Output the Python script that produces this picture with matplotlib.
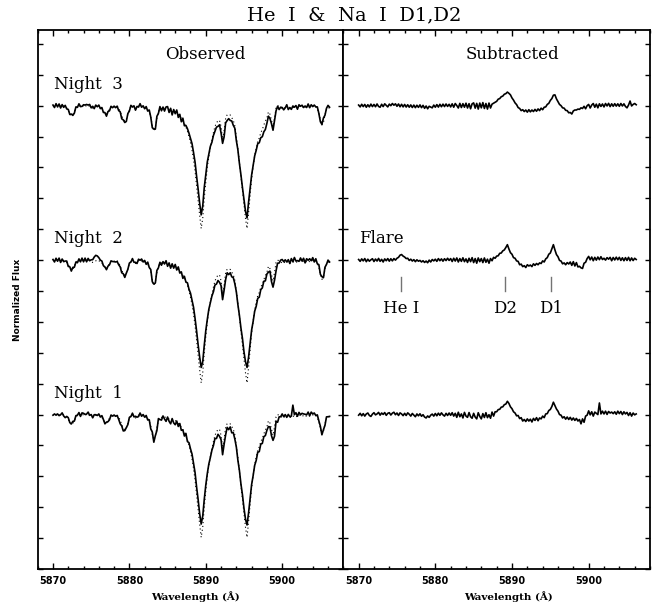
import numpy as np
import matplotlib
matplotlib.use("Agg")
import matplotlib.pyplot as plt
from matplotlib.ticker import MultipleLocator, NullFormatter

# ---------------- data ----------------
# wavelength sampling grid (Angstrom), 0.2 A steps from 5870.0 to 5906.2
wl = np.round(5870.0 + 0.2 * np.arange(182), 1)

# quiescent template spectrum (dotted), normalized flux
template = [
    1.000, 0.996, 1.004, 0.998, 1.003, 0.995, 1.001, 0.997, 0.992, 0.985,
    0.968, 0.950, 0.935, 0.942, 0.962, 0.983, 0.995, 1.000, 0.993, 1.003,
    0.996, 1.004, 0.994, 1.001, 0.996, 0.990, 0.985, 0.988, 0.995, 1.001,
    0.996, 0.990, 0.982, 0.966, 0.950, 0.944, 0.958, 0.980, 0.993, 0.998,
    0.992, 1.000, 0.995, 0.985, 0.962, 0.935, 0.912, 0.900, 0.912, 0.945,
    0.975, 0.995, 1.000, 0.990, 0.978, 0.985, 0.997, 1.002, 0.995, 0.990,
    0.988, 0.982, 0.975, 0.958, 0.925, 0.872, 0.835, 0.860, 0.918, 0.960,
    0.978, 0.982, 0.978, 0.985, 0.980, 0.976, 0.972, 0.968, 0.962, 0.958,
    0.962, 0.952, 0.942, 0.930, 0.918, 0.902, 0.885, 0.862, 0.835, 0.800,
    0.760, 0.712, 0.650, 0.575, 0.480, 0.385, 0.290, 0.205, 0.270, 0.400,
    0.505, 0.600, 0.670, 0.730, 0.775, 0.825, 0.865, 0.887, 0.904, 0.904,
    0.865, 0.782, 0.838, 0.917, 0.942, 0.940, 0.940, 0.922, 0.905, 0.870,
    0.800, 0.725, 0.635, 0.545, 0.455, 0.360, 0.270, 0.205, 0.305, 0.420,
    0.525, 0.605, 0.675, 0.725, 0.770, 0.790, 0.825, 0.845, 0.875, 0.900,
    0.920, 0.960, 0.945, 0.905, 0.865, 0.920, 0.985, 1.000, 0.995, 0.990,
    0.980, 0.988, 0.982, 0.992, 0.985, 0.978, 0.990, 0.986, 0.995, 0.990,
    0.985, 0.992, 0.998, 0.988, 0.994, 0.986, 0.992, 0.998, 0.990, 0.994,
    0.998, 0.990, 0.994, 0.980, 0.955, 0.910, 0.875, 0.890, 0.940, 0.975,
    0.988, 0.984,
]

# template-subtracted spectra (continuum = 1)
sub_night1 = [
    0.996, 1.008, 0.992, 1.006, 0.990, 1.004, 1.010, 0.994, 0.988, 1.003,
    1.012, 0.998, 1.004, 1.014, 0.996, 1.010, 1.001, 1.013, 0.995, 1.008,
    1.012, 0.997, 1.009, 1.015, 0.999, 1.010, 0.994, 1.011, 1.004, 0.993,
    1.008, 0.994, 1.011, 1.002, 0.990, 1.007, 0.996, 0.986, 1.004, 0.992,
    1.005, 0.989, 0.999, 0.984, 0.978, 0.991, 0.982, 0.996, 1.003, 0.990,
    1.007, 0.992, 1.009, 0.995, 1.011, 0.998, 0.990, 1.008, 0.994, 1.010,
    0.995, 1.012, 0.990, 1.008, 0.982, 1.015, 0.986, 1.004, 0.978, 1.014,
    0.990, 0.982, 1.013, 0.986, 0.976, 1.008, 0.984, 0.972, 1.012, 0.988,
    0.972, 1.006, 0.981, 1.012, 0.980, 0.999, 0.976, 1.016, 0.990, 1.018,
    1.018, 1.032, 1.034, 1.048, 1.050, 1.064, 1.068, 1.086, 1.072, 1.050,
    1.038, 1.018, 1.010, 0.992, 0.994, 0.974, 0.980, 0.958, 0.968, 0.955,
    0.972, 0.958, 0.970, 0.952, 0.975, 0.962, 0.980, 0.960, 0.978, 0.972,
    0.990, 0.980, 1.004, 1.006, 1.026, 1.033, 1.052, 1.080, 1.058, 1.036,
    1.022, 1.000, 0.996, 0.978, 0.986, 0.970, 0.984, 0.968, 0.982, 0.964,
    0.978, 0.962, 0.975, 0.958, 0.968, 0.940, 0.972, 0.950, 0.990, 0.996,
    1.024, 0.998, 1.018, 0.990, 1.016, 1.008, 1.000, 1.075, 1.004, 1.022,
    1.004, 1.022, 1.001, 1.020, 1.010, 1.016, 1.006, 1.018, 1.002, 1.022,
    1.006, 1.020, 1.000, 1.018, 1.004, 1.014, 0.994, 1.012, 0.990, 1.010,
    0.998, 1.004,
]

sub_night2 = [
    1.004, 0.992, 1.008, 0.995, 1.010, 0.990, 1.006, 0.993, 1.002, 1.009,
    0.991, 1.007, 0.994, 1.011, 0.992, 1.005, 0.988, 1.008, 0.996, 1.010,
    0.993, 1.009, 0.995, 1.010, 1.000, 1.012, 1.018, 1.032, 1.036, 1.026,
    1.020, 1.010, 1.012, 0.998, 1.006, 0.994, 1.003, 0.990, 1.002, 0.993,
    0.998, 0.988, 0.996, 0.985, 0.994, 0.983, 1.000, 0.988, 1.004, 0.995,
    1.006, 0.992, 1.010, 0.996, 1.008, 0.993, 1.009, 0.997, 1.012, 0.998,
    1.010, 0.991, 1.012, 0.994, 1.014, 0.988, 1.010, 0.992, 1.015, 0.990,
    1.008, 0.985, 1.012, 0.990, 1.016, 0.984, 1.010, 0.980, 1.014, 0.990,
    1.010, 0.984, 1.014, 0.986, 1.006, 0.980, 1.010, 0.996, 1.018, 1.012,
    1.026, 1.028, 1.044, 1.046, 1.060, 1.066, 1.082, 1.100, 1.072, 1.048,
    1.038, 1.016, 1.012, 0.995, 0.992, 0.970, 0.974, 0.958, 0.964, 0.952,
    0.970, 0.962, 0.968, 0.958, 0.976, 0.966, 0.978, 0.970, 0.982, 0.978,
    0.995, 0.988, 1.008, 1.016, 1.038, 1.046, 1.072, 1.100, 1.066, 1.036,
    1.022, 0.998, 0.994, 0.976, 0.982, 0.970, 0.984, 0.975, 0.988, 0.966,
    0.990, 0.962, 0.984, 0.956, 0.960, 0.950, 0.946, 0.980, 0.986, 1.010,
    1.024, 1.002, 1.020, 0.996, 1.018, 1.000, 1.020, 1.003, 1.022, 1.004,
    1.012, 1.000, 1.016, 1.006, 1.018, 0.996, 1.017, 1.001, 1.019, 1.002,
    1.018, 0.998, 1.015, 0.996, 1.016, 0.998, 1.018, 0.996, 1.014, 0.997,
    1.012, 1.004,
]

sub_night3 = [
    1.004, 0.992, 1.009, 0.994, 1.008, 0.990, 1.006, 0.992, 1.010, 0.994,
    1.008, 0.993, 1.011, 0.995, 0.990, 1.009, 0.994, 1.012, 1.002, 0.992,
    1.010, 1.000, 1.014, 1.003, 1.012, 0.996, 1.011, 0.993, 1.009, 0.992,
    1.008, 0.991, 1.006, 0.990, 1.005, 0.988, 1.004, 0.987, 1.003, 0.989,
    1.005, 0.987, 1.002, 0.983, 0.998, 0.980, 0.996, 0.991, 0.986, 1.004,
    0.990, 1.007, 0.991, 1.009, 0.993, 1.010, 0.994, 1.011, 0.995, 1.009,
    0.992, 1.012, 0.990, 1.014, 1.001, 0.985, 1.015, 0.988, 1.013, 0.990,
    1.016, 0.985, 1.013, 0.980, 1.012, 1.018, 0.984, 1.015, 0.978, 1.017,
    0.986, 1.020, 0.982, 1.014, 0.978, 1.017, 0.985, 1.010, 1.016, 1.022,
    1.028, 1.042, 1.046, 1.058, 1.062, 1.074, 1.078, 1.088, 1.080, 1.070,
    1.050, 1.036, 1.018, 1.007, 0.988, 0.982, 0.968, 0.974, 0.962, 0.972,
    0.958, 0.974, 0.960, 0.972, 0.962, 0.976, 0.964, 0.979, 0.968, 0.984,
    0.974, 0.990, 0.992, 1.008, 1.015, 1.034, 1.046, 1.068, 1.070, 1.044,
    1.026, 1.008, 1.000, 0.986, 0.984, 0.970, 0.968, 0.954, 0.956, 0.946,
    0.966, 0.972, 0.972, 0.978, 0.976, 0.986, 0.982, 0.996, 0.980, 1.000,
    1.008, 0.985, 1.004, 1.014, 0.990, 1.010, 0.986, 1.012, 0.995, 1.011,
    0.992, 1.014, 0.998, 1.015, 0.994, 1.012, 0.996, 1.013, 0.997, 1.012,
    0.996, 1.014, 0.998, 1.012, 0.995, 0.986, 1.004, 1.030, 0.998, 1.008,
    1.014, 1.006,
]

night_labels = ["Night  1", "Night  2", "Night  3"]
night_offsets = [0.0, 1.0, 2.0]
subtracted = [sub_night1, sub_night2, sub_night3]

marker_names = ["He I", "D2", "D1"]
marker_waves = [5875.5, 5889.15, 5895.1]

x_ticks = [5870, 5880, 5890, 5900]

for arr in [template, sub_night1, sub_night2, sub_night3]:
    assert len(arr) == len(wl), len(arr)

template = np.array(template)

# ---------------- figure ----------------
W, H = 654, 605
fig = plt.figure(figsize=(W / 100, H / 100), dpi=100)
bottom = (H - 569) / H
height = (569 - 30) / H
ax1 = fig.add_axes([37.7 / W, bottom, 305.6 / W, height])
ax2 = fig.add_axes([343.3 / W, bottom, 306.7 / W, height])

serif = "DejaVu Serif"

for ax in (ax1, ax2):
    ax.set_xlim(5868, 5908)
    ax.set_ylim(0, 3.49)
    ax.xaxis.set_major_locator(MultipleLocator(10))
    ax.xaxis.set_minor_locator(MultipleLocator(2))
    ax.yaxis.set_major_locator(MultipleLocator(0.2))
    ax.yaxis.set_major_formatter(NullFormatter())
    ax.tick_params(axis="both", which="both", direction="in", top=True,
                   right=True, width=1.0, color="black")
    ax.tick_params(axis="x", which="major", length=4.3, labelsize=7, pad=5)
    ax.tick_params(axis="x", which="minor", length=2.3)
    ax.tick_params(axis="y", which="major", length=3.4)
    ax.set_xticks(x_ticks)
    for lab in ax.get_xticklabels():
        lab.set_fontweight("bold")
    for sp in ax.spines.values():
        sp.set_linewidth(1.3)

# observed (left) and subtracted (right)
for lab, off, sub in zip(night_labels, night_offsets, subtracted):
    sub = np.array(sub)
    observed = template + (sub - 1.0)
    ax1.plot(wl, template + off, color="black", lw=0.8,
             linestyle=(0, (1, 2.5)), zorder=2)
    ax1.plot(wl, observed + off, color="black", lw=1.2, zorder=3)
    ax2.plot(wl, sub + off, color="black", lw=1.2, zorder=3)
    ax1.text(5870.1, off + 1.11, lab, family=serif, fontsize=12,
             ha="left", va="baseline")

ax2.text(5870.1, 2.112, "Flare", family=serif, fontsize=12,
         ha="left", va="baseline")

for name, w in zip(marker_names, marker_waves):
    ax2.plot([w, w], [1.80, 1.89], color="0.45", lw=1.0)
    ax2.text(w, 1.655, name, family=serif, fontsize=12, ha="center",
             va="baseline")

ax1.text(5890, 3.305, "Observed", family=serif, fontsize=12, ha="center",
         va="baseline")
ax2.text(5890, 3.305, "Subtracted", family=serif, fontsize=12, ha="center",
         va="baseline")

fig.text(354 / W, 1 - 15 / H, "He  I  &  Na  I  D1,D2", family=serif,
         fontsize=14, ha="center", va="center")

fig.text(195 / W, 1 - 597 / H, "Wavelength (Å)", family=serif,
         fontweight="bold", fontsize=7.5, ha="center", va="center")
fig.text(508 / W, 1 - 597 / H, "Wavelength (Å)", family=serif,
         fontweight="bold", fontsize=7.5, ha="center", va="center")
fig.text(18 / W, 1 - 300 / H, "Normalized Flux", fontweight="bold",
         fontsize=6.5, ha="center", va="center", rotation=90)

fig.savefig("out.png", dpi=100)
